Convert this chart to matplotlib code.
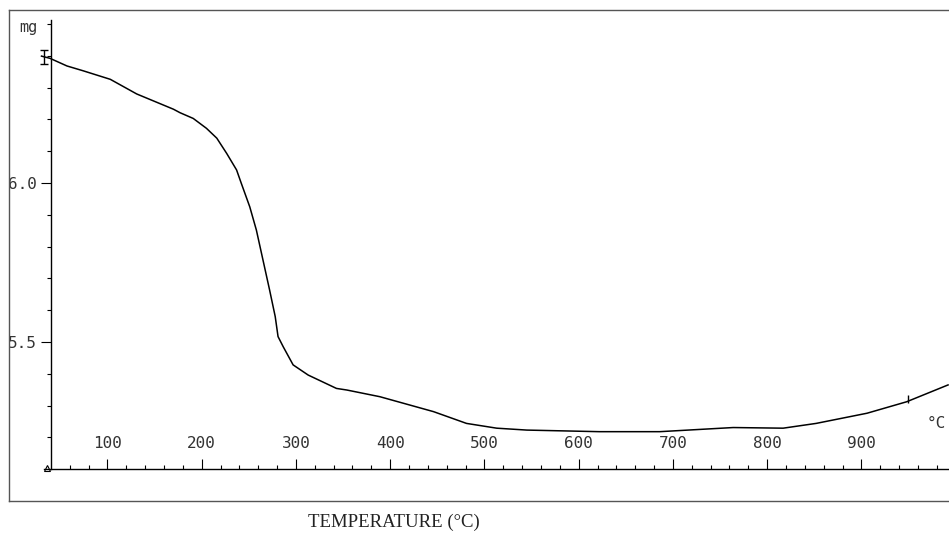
import matplotlib
matplotlib.use("Agg")
import matplotlib.pyplot as plt
from matplotlib.ticker import FixedLocator, NullFormatter

# ---- data (TGA curve) ----
temperature = [30, 39, 57, 74, 103, 131, 170, 177, 191, 205, 216, 226.5, 237, 242,
               251, 258, 265, 272, 278, 281, 286.5, 297, 313, 343, 354, 389, 446,
               481, 513, 545, 622, 686, 764, 817, 852, 906, 948, 992]
mass_mg = [6.399, 6.392, 6.368, 6.353, 6.326, 6.280, 6.232, 6.221, 6.203, 6.172,
           6.141, 6.093, 6.041, 5.999, 5.925, 5.852, 5.758, 5.664, 5.580, 5.517,
           5.485, 5.428, 5.396, 5.354, 5.349, 5.328, 5.281, 5.244, 5.229, 5.223,
           5.218, 5.218, 5.231, 5.229, 5.244, 5.276, 5.312, 5.365]

x_major = [100, 200, 300, 400, 500, 600, 700, 800, 900]
x_labels = ["100", "200", "300", "400", "500", "600", "700", "800", "900"]
x_minor = [t for t in range(60, 1000, 20) if t % 100 != 0]
y_major = [5.5, 6.0]
y_labels = ["5.5", "6.0"]
y_minor = [5.2, 5.3, 5.4, 5.6, 5.7, 5.8, 5.9, 6.1, 6.2, 6.3, 6.4, 6.5]

start_T, start_mg = [33], [6.396]
mark_T, mark_mg = [949], [5.322]

mono = "DejaVu Sans Mono"

fig = plt.figure(figsize=(9.49, 5.34), dpi=100)
ax = fig.add_axes([9 / 949, 33 / 534, 940 / 949, 491 / 534])
ax.set_xlim(-4.5, 993)
ax.set_ylim(5.0, 6.544)

ax.plot(temperature, mass_mg, color="black", lw=1.1)
ax.errorbar(start_T, start_mg, yerr=0.022, fmt="none", ecolor="black",
            elinewidth=1.0, capsize=3, capthick=1.0)
ax.plot(mark_T, mark_mg, marker="|", ms=6, color="black", ls="none")
ax.plot([36], [5.104], marker="^", ms=5, mfc="none", mec="black", mew=0.8,
        ls="none", clip_on=False)

# axes lines (inner)
ax.spines["right"].set_visible(False)
ax.spines["top"].set_color("#555555")
ax.spines["top"].set_linewidth(1.0)
ax.spines["left"].set_position(("data", 40))
ax.spines["left"].set_bounds(5.1, 6.513)
ax.spines["bottom"].set_position(("data", 5.1))
ax.spines["bottom"].set_bounds(33, 993)
for s in ("left", "bottom"):
    ax.spines[s].set_linewidth(1.0)
    ax.spines[s].set_color("black")

# outer frame (left and bottom)
ax.plot([0, 0], [0, 1], transform=ax.transAxes, color="#555555", lw=1.0, clip_on=False)
ax.plot([0, 1], [0, 0], transform=ax.transAxes, color="#555555", lw=1.0, clip_on=False)

ax.xaxis.set_major_locator(FixedLocator(x_major))
ax.set_xticklabels(x_labels)
ax.xaxis.set_minor_locator(FixedLocator(x_minor))
ax.tick_params(axis="x", which="major", direction="in", length=7, width=0.8,
               pad=-24, labelsize=11.5, labelcolor="#333333")
ax.tick_params(axis="x", which="minor", direction="in", length=3, width=0.8)
for lbl in ax.get_xticklabels():
    lbl.set_family(mono)

ax.yaxis.set_major_locator(FixedLocator(y_major))
ax.set_yticklabels(y_labels)
ax.yaxis.set_minor_locator(FixedLocator(y_minor))
ax.yaxis.set_minor_formatter(NullFormatter())
ax.tick_params(axis="y", which="major", direction="out", length=7, width=0.8,
               pad=3, labelsize=11.5, labelcolor="#333333")
ax.tick_params(axis="y", which="minor", direction="out", length=3, width=0.8)
for lbl in ax.get_yticklabels():
    lbl.set_family(mono)

ax.text(16, 6.49, "mg", family=mono, fontsize=11, color="#333333",
        ha="center", va="center")
ax.text(980, 5.245, "°C", family=mono, fontsize=11.5, color="#333333",
        ha="center", va="center")

fig.text(394 / 949, 1 - 522 / 534, "TEMPERATURE (°C)", family="Liberation Serif",
         fontsize=13.5, ha="center", va="center", color="#222222")

fig.savefig("out.png", dpi=100, facecolor="white")
